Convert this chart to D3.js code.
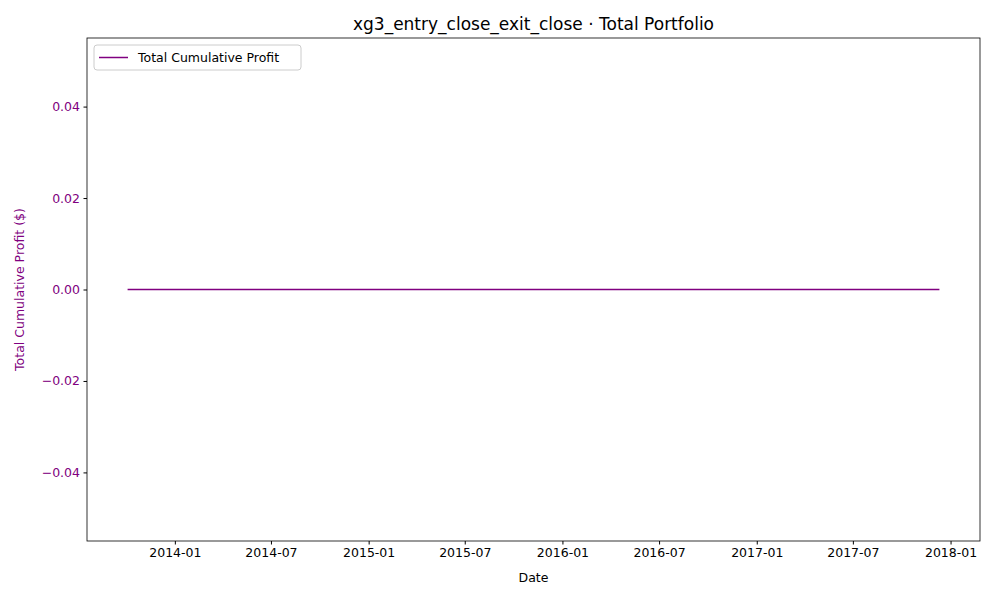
<!DOCTYPE html>
<html><head><meta charset="utf-8">
<script src="https://cdn.jsdelivr.net/npm/d3@7"></script>
<style>body{margin:0;background:#fff}text{font-family:"DejaVu Sans",sans-serif}</style>
</head><body><svg id="c" width="1000" height="600"></svg>
<script>
const dates = ["2013-10-04","2014-06-30","2015-06-30","2016-06-30","2017-06-30","2017-12-11"];
const profits = [0,0,0,0,0,0];
const xTicks = ["2014-01","2014-07","2015-01","2015-07","2016-01","2016-07","2017-01","2017-07","2018-01"];
const yTicks = [-0.04,-0.02,0,0.02,0.04];

const parse = d3.timeParse("%Y-%m-%d");
const data = dates.map((d,i)=>({d:parse(d),v:profits[i]}));
const L=87,R=980,T=38,B=541;
const svg=d3.select("#c");
const ext=d3.extent(data,d=>d.d);
const span=ext[1]-ext[0];
const x=d3.scaleTime().domain([new Date(+ext[0]-span*0.05),new Date(+ext[1]+span*0.05)]).range([L,R]);
const y=d3.scaleLinear().domain([-0.055,0.055]).range([B,T]);
const purple="#800080";

const xa=svg.append("g").attr("transform",`translate(0,${B})`)
 .call(d3.axisBottom(x).tickValues(xTicks.map(t=>d3.timeParse("%Y-%m")(t))).tickFormat(d3.timeFormat("%Y-%m")).tickSize(3.5).tickPadding(3.5));
xa.attr("font-size",null).attr("font-family",null);
xa.selectAll("text").style("font-size","12.5px").attr("fill","#000");
const ya=svg.append("g").attr("transform",`translate(${L},0)`)
 .call(d3.axisLeft(y).tickValues(yTicks).tickFormat(v=>{const s=Math.abs(v).toFixed(2);return v<-1e-9?"\u2212"+s:s;}).tickSize(3.5).tickPadding(3.5));
ya.attr("font-size",null).attr("font-family",null);
ya.selectAll("text").style("font-size","12.5px").attr("fill",purple);
svg.selectAll(".domain").remove();
svg.append("rect").attr("x",L).attr("y",T).attr("width",R-L).attr("height",B-T).attr("fill","none").attr("stroke","#000").attr("stroke-width",0.8);

svg.append("path").datum(data).attr("fill","none").attr("stroke",purple).attr("stroke-width",1.5)
 .attr("d",d3.line().x(d=>x(d.d)).y(d=>y(d.v)));

svg.append("text").attr("x",(L+R)/2).attr("y",30).attr("text-anchor","middle").attr("font-size",17).text("xg3_entry_close_exit_close · Total Portfolio");
svg.append("text").attr("x",(L+R)/2).attr("y",582).attr("text-anchor","middle").attr("font-size",12.5).text("Date");
svg.append("text").attr("transform",`translate(24,${(T+B)/2}) rotate(-90)`).attr("text-anchor","middle").attr("font-size",12.5).attr("fill",purple).text("Total Cumulative Profit ($)");

const lg=svg.append("g").attr("transform","translate(94,45)");
lg.append("rect").attr("width",207).attr("height",25).attr("rx",3).attr("fill","#fff").attr("stroke","#ccc");
lg.append("line").attr("x1",5).attr("x2",34).attr("y1",12.5).attr("y2",12.5).attr("stroke",purple).attr("stroke-width",1.5);
lg.append("text").attr("x",44).attr("y",17).attr("font-size",12.5).text("Total Cumulative Profit");
</script></body></html>
